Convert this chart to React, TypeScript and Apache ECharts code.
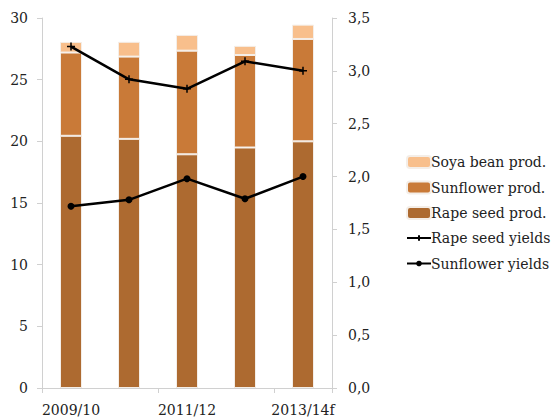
import React, { useEffect, useRef } from "react";
import * as echarts from "echarts";

const categories = ["2009/10", "2010/11", "2011/12", "2012/13", "2013/14f"];
const rapeSeedProd = [20.45, 20.2, 18.95, 19.5, 20.0];
const sunflowerProd = [6.75, 6.67, 8.4, 7.5, 8.3];
const soyaBeanProd = [0.86, 1.2, 1.28, 0.74, 1.16];
const rapeSeedYields = [3.23, 2.92, 2.83, 3.09, 3.0];
const sunflowerYields = [1.72, 1.78, 1.98, 1.79, 2.0];

const FONT = "'DejaVu Serif', 'Liberation Serif', serif";

export default function App() {
  const ref = useRef<HTMLDivElement>(null);

  useEffect(() => {
    if (!ref.current) return;
    const chart = echarts.init(ref.current, undefined, { renderer: "svg" });
    const axisLine = { show: true, lineStyle: { color: "#d0d0d0", width: 1 } };
    const tick = { show: true, length: 5, lineStyle: { color: "#d0d0d0" } };
    const labelBase = { fontFamily: FONT, fontSize: 14, color: "#222" };
    const legendText = {
      fontFamily: FONT,
      fontSize: 14,
      color: "#222",
      lineHeight: 16,
    };
    const barCommon = {
      type: "bar" as const,
      stack: "prod",
      barWidth: 22,
      yAxisIndex: 0,
    };
    chart.setOption({
      animation: false,
      backgroundColor: "#ffffff",
      textStyle: { fontFamily: FONT, color: "#222" },
      grid: { left: 42, right: 224, top: 18, bottom: 31 },
      legend: [
        {
          orient: "vertical",
          left: 406,
          top: 154,
          padding: 0,
          itemWidth: 24,
          itemHeight: 12,
          itemGap: 9.5,
          textStyle: { ...legendText, padding: [0, 0, 0, -5] },
          data: ["Soya bean prod.", "Sunflower prod.", "Rape seed prod."],
        },
        {
          orient: "vertical",
          left: 406,
          top: 230,
          padding: 0,
          itemWidth: 24,
          itemHeight: 7,
          itemGap: 9.5,
          textStyle: { ...legendText, padding: [0, 0, 0, -5] },
          data: ["Rape seed yields", "Sunflower yields"],
        },
      ],
      xAxis: {
        type: "category",
        data: categories,
        axisLine,
        axisTick: tick,
        axisLabel: { ...labelBase, interval: 1, margin: 15 },
      },
      yAxis: [
        {
          type: "value",
          min: 0,
          max: 30,
          interval: 5,
          axisLine,
          axisTick: tick,
          splitLine: { show: false },
          axisLabel: { ...labelBase, margin: 14 },
        },
        {
          type: "value",
          min: 0,
          max: 3.5,
          interval: 0.5,
          position: "right",
          axisLine,
          axisTick: tick,
          splitLine: { show: false },
          axisLabel: {
            ...labelBase,
            margin: 16,
            formatter: (v: number) => v.toFixed(1).replace(".", ","),
          },
        },
      ],
      series: [
        {
          ...barCommon,
          name: "Rape seed prod.",
          data: rapeSeedProd,
          itemStyle: { color: "#AD6A30", borderColor: "#f4eee8", borderWidth: 1 },
        },
        {
          ...barCommon,
          name: "Sunflower prod.",
          data: sunflowerProd,
          itemStyle: { color: "#C97A38", borderColor: "#f4eee8", borderWidth: 1 },
        },
        {
          ...barCommon,
          name: "Soya bean prod.",
          data: soyaBeanProd,
          itemStyle: { color: "#F8BF8C", borderColor: "#f4eee8", borderWidth: 1 },
        },
        {
          type: "line",
          name: "Rape seed yields",
          yAxisIndex: 1,
          data: rapeSeedYields,
          symbol: "path://M0,4L8,4M4,0L4,8",
          symbolSize: 8,
          showSymbol: true,
          lineStyle: { color: "#000", width: 2.5 },
          itemStyle: { color: "#000", borderColor: "#000", borderWidth: 1.5 },
          z: 5,
        },
        {
          type: "line",
          name: "Sunflower yields",
          yAxisIndex: 1,
          data: sunflowerYields,
          symbol: "circle",
          symbolSize: 7,
          lineStyle: { color: "#000", width: 2.5 },
          itemStyle: { color: "#000" },
          z: 5,
        },
      ],
    });
    return () => chart.dispose();
  }, []);

  return (
    <div
      ref={ref}
      style={{ position: "fixed", left: 0, top: 0, width: 556, height: 419 }}
    />
  );
}
